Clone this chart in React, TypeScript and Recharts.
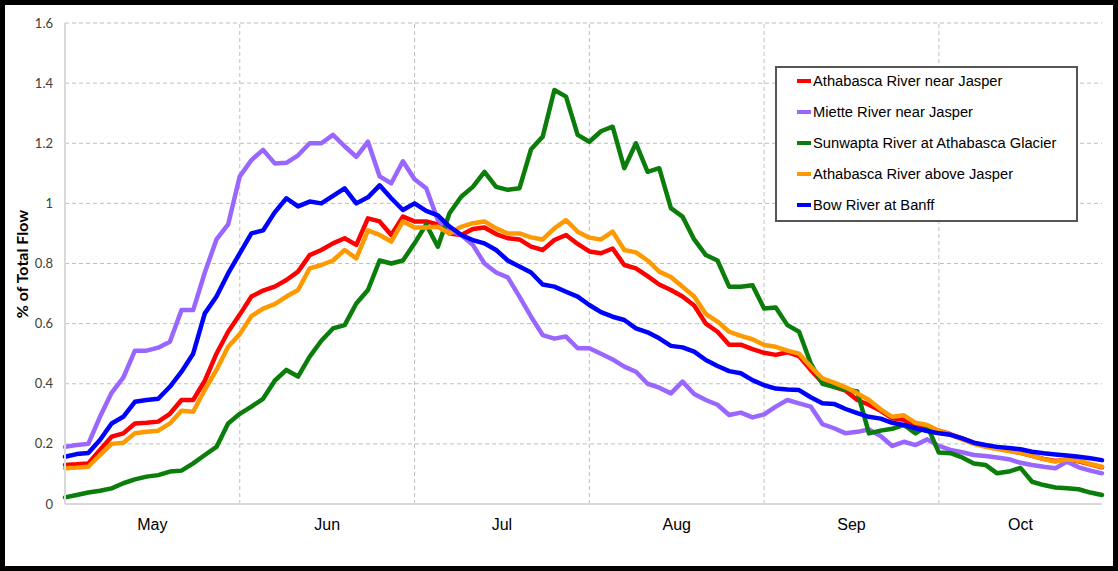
import React from 'react';
import { LineChart, Line, XAxis, YAxis, CartesianGrid, ReferenceLine, Legend, Label } from 'recharts';

// sampled every second day, day 0 = start of May
const DAYS = Array.from({ length: 90 }, (_, i) => i * 2);

const MONTHS = ['May', 'Jun', 'Jul', 'Aug', 'Sep', 'Oct'];
const MONTH_LABEL_DAYS = [15, 45, 75, 105, 135, 164];
const MONTH_BOUNDARY_DAYS = [30, 60, 90, 120, 150];
const Y_TICKS = [0, 0.2, 0.4, 0.6, 0.8, 1, 1.2, 1.4, 1.6];

const ATHABASCA_NEAR_JASPER = [
  0.13, 0.132, 0.135, 0.18, 0.224, 0.235, 0.268, 0.27, 0.274, 0.3,
  0.346, 0.346, 0.41, 0.5, 0.573, 0.63, 0.69, 0.71, 0.723, 0.745,
  0.773, 0.828, 0.845, 0.867, 0.884, 0.862, 0.95, 0.94, 0.895, 0.956,
  0.94, 0.94, 0.93, 0.9, 0.895, 0.915, 0.92, 0.898, 0.884, 0.88,
  0.856, 0.845, 0.878, 0.895, 0.865, 0.84, 0.834, 0.85, 0.795, 0.784,
  0.758, 0.73, 0.712, 0.69, 0.66, 0.6, 0.573, 0.53, 0.53, 0.515,
  0.503, 0.496, 0.505, 0.492, 0.446, 0.404, 0.39, 0.377, 0.346, 0.33,
  0.31, 0.285, 0.28, 0.26, 0.252, 0.244, 0.232, 0.218, 0.203, 0.193,
  0.185, 0.178, 0.17, 0.16, 0.15, 0.143, 0.147, 0.142, 0.132, 0.122,
];

const MIETTE_NEAR_JASPER = [
  0.19, 0.196, 0.2, 0.29, 0.37, 0.42, 0.51, 0.51, 0.52, 0.54,
  0.645, 0.645, 0.77, 0.88, 0.93, 1.09, 1.144, 1.178, 1.133, 1.135,
  1.16, 1.2, 1.2, 1.228, 1.19, 1.155, 1.205, 1.09, 1.067, 1.14,
  1.08, 1.05, 0.945, 0.91, 0.895, 0.862, 0.8, 0.77, 0.754, 0.69,
  0.623, 0.562, 0.55, 0.557, 0.518, 0.518, 0.5, 0.481, 0.457, 0.44,
  0.4, 0.387, 0.368, 0.407, 0.366, 0.346, 0.33, 0.296, 0.304, 0.288,
  0.298, 0.324, 0.346, 0.335, 0.324, 0.266, 0.252, 0.235, 0.24, 0.248,
  0.226, 0.193, 0.207, 0.196, 0.215, 0.193, 0.18, 0.172, 0.163, 0.16,
  0.155, 0.149, 0.137, 0.13, 0.124, 0.119, 0.141, 0.122, 0.111, 0.102,
];

const SUNWAPTA_AT_GLACIER = [
  0.022, 0.03, 0.038, 0.044, 0.052, 0.069, 0.082, 0.091, 0.096, 0.108,
  0.111, 0.135, 0.163, 0.19, 0.268, 0.3, 0.324, 0.35, 0.41, 0.446,
  0.424, 0.49, 0.543, 0.584, 0.595, 0.667, 0.712, 0.81, 0.8, 0.81,
  0.867, 0.93, 0.856, 0.967, 1.022, 1.055, 1.105, 1.055, 1.045, 1.05,
  1.18, 1.222, 1.377, 1.355, 1.228, 1.205, 1.24, 1.255, 1.117, 1.2,
  1.105, 1.117, 0.984, 0.956, 0.88, 0.828, 0.81, 0.723, 0.723, 0.728,
  0.65, 0.654, 0.595, 0.573, 0.468, 0.4, 0.39, 0.381, 0.374, 0.235,
  0.244, 0.25, 0.263, 0.235, 0.26, 0.171, 0.169, 0.155, 0.135, 0.13,
  0.102, 0.108, 0.12, 0.074, 0.063, 0.055, 0.052, 0.049, 0.038, 0.03,
];

const ATHABASCA_ABOVE_JASPER = [
  0.119, 0.121, 0.124, 0.163, 0.2, 0.204, 0.235, 0.24, 0.244, 0.268,
  0.31, 0.307, 0.38, 0.446, 0.523, 0.565, 0.625, 0.65, 0.665, 0.69,
  0.712, 0.784, 0.795, 0.81, 0.845, 0.817, 0.91, 0.895, 0.873, 0.94,
  0.92, 0.92, 0.922, 0.9, 0.922, 0.934, 0.94, 0.917, 0.9, 0.9,
  0.887, 0.88, 0.917, 0.944, 0.906, 0.886, 0.88, 0.906, 0.845, 0.837,
  0.81, 0.773, 0.755, 0.723, 0.69, 0.632, 0.607, 0.573, 0.559, 0.548,
  0.529, 0.523, 0.51, 0.5, 0.457, 0.418, 0.404, 0.388, 0.368, 0.346,
  0.315, 0.29, 0.295, 0.27, 0.263, 0.244, 0.23, 0.215, 0.2, 0.19,
  0.183, 0.176, 0.17, 0.16, 0.149, 0.141, 0.149, 0.144, 0.133, 0.124,
];

const BOW_AT_BANFF = [
  0.157, 0.166, 0.17, 0.213, 0.268, 0.29, 0.34, 0.346, 0.35, 0.39,
  0.44, 0.5, 0.634, 0.69, 0.767, 0.834, 0.9, 0.91, 0.97, 1.017,
  0.99, 1.006, 1.0, 1.025, 1.05, 1.0, 1.02, 1.06, 1.017, 0.978,
  1.0, 0.975, 0.96, 0.923, 0.895, 0.878, 0.867, 0.845, 0.81, 0.79,
  0.77, 0.73, 0.723, 0.706, 0.69, 0.662, 0.638, 0.623, 0.612, 0.584,
  0.571, 0.551, 0.526, 0.521, 0.507, 0.479, 0.459, 0.442, 0.435, 0.412,
  0.395, 0.384, 0.381, 0.379, 0.355, 0.335, 0.333, 0.316, 0.302, 0.29,
  0.284, 0.27, 0.263, 0.252, 0.243, 0.235, 0.23, 0.218, 0.204, 0.196,
  0.19, 0.186, 0.182, 0.174, 0.169, 0.165, 0.161, 0.157, 0.152, 0.146,
];

const SERIES = [
  { key: 'athNear', name: 'Athabasca River near Jasper', color: '#ff0000', values: ATHABASCA_NEAR_JASPER },
  { key: 'miette', name: 'Miette River near Jasper', color: '#9966ff', values: MIETTE_NEAR_JASPER },
  { key: 'sunwapta', name: 'Sunwapta River at Athabasca Glacier', color: '#0a7d0a', values: SUNWAPTA_AT_GLACIER },
  { key: 'athAbove', name: 'Athabasca River above Jasper', color: '#ff9900', values: ATHABASCA_ABOVE_JASPER },
  { key: 'bow', name: 'Bow River at Banff', color: '#0000ff', values: BOW_AT_BANFF },
];

const data = DAYS.map((day, i) => {
  const row: Record<string, number> = { day };
  SERIES.forEach((s) => {
    row[s.key] = s.values[i];
  });
  return row;
});

const GRID = '#bfbfbf';
const AXIS = '#d9d9d9';

function LegendBox() {
  return (
    <div
      style={{
        width: 303,
        height: 156,
        boxSizing: 'border-box',
        border: '2px solid #555',
        background: '#fff',
        fontFamily: "'Liberation Sans', Arial, sans-serif",
        fontSize: 14.7,
        color: '#000',
      }}
    >
      <div style={{ marginTop: -2 }}>
        {SERIES.map((s) => (
          <div key={s.key} style={{ display: 'flex', alignItems: 'center', height: 30.8, paddingLeft: 20 }}>
            <span style={{ display: 'inline-block', width: 14, height: 4, background: s.color, marginRight: 2 }} />
            <span>{s.name}</span>
          </div>
        ))}
      </div>
    </div>
  );
}

export default function App() {
  return (
    <div style={{ position: 'relative', width: 1118, height: 571, background: '#fff' }}>
      <style>{'body{margin:0}'}</style>
      <LineChart width={1118} height={571} data={data} margin={{ top: 23, right: 16, bottom: 37, left: 0 }}>
        <CartesianGrid vertical={false} stroke={GRID} strokeDasharray="4 3" />
        {MONTH_BOUNDARY_DAYS.map((d) => (
          <ReferenceLine key={d} x={d} stroke={GRID} strokeDasharray="4 3" />
        ))}
        <XAxis
          dataKey="day"
          type="number"
          domain={[0, 178]}
          ticks={MONTH_LABEL_DAYS}
          interval={0}
          tickFormatter={(v: number) => MONTHS[MONTH_LABEL_DAYS.indexOf(v)]}
          tickLine={false}
          tickMargin={9}
          axisLine={{ stroke: AXIS, strokeWidth: 2 }}
          tick={{ fill: '#000', fontSize: 16, fontFamily: "'Liberation Sans', Arial, sans-serif" }}
        />
        <YAxis
          width={65}
          domain={[0, 1.6]}
          ticks={Y_TICKS}
          interval={0}
          tickLine={false}
          tickMargin={6}
          axisLine={{ stroke: AXIS, strokeWidth: 2 }}
          tick={{ fill: '#404040', fontSize: 13, fontFamily: 'Lato, sans-serif' }}
        >
          <Label
            content={() => (
              <text
                x={21}
                y={264}
                transform="rotate(-90 21 264)"
                textAnchor="middle"
                dominantBaseline="central"
                style={{ fontFamily: 'Lato, sans-serif', fontWeight: 700, fontSize: 16, fill: '#000' }}
              >
                % of Total Flow
              </text>
            )}
          />
        </YAxis>
        <Legend
          layout="vertical"
          align="center"
          verticalAlign="middle"
          content={() => <LegendBox />}
          wrapperStyle={{ left: 775, top: 66, width: 303, height: 156 }}
        />
        {SERIES.map((s) => (
          <Line
            key={s.key}
            type="linear"
            dataKey={s.key}
            name={s.name}
            stroke={s.color}
            strokeWidth={4.5}
            strokeLinejoin="round"
            strokeLinecap="round"
            dot={false}
            isAnimationActive={false}
          />
        ))}
      </LineChart>
      <div
        style={{
          position: 'absolute',
          inset: 0,
          border: '5px solid #000',
          pointerEvents: 'none',
        }}
      />
    </div>
  );
}
